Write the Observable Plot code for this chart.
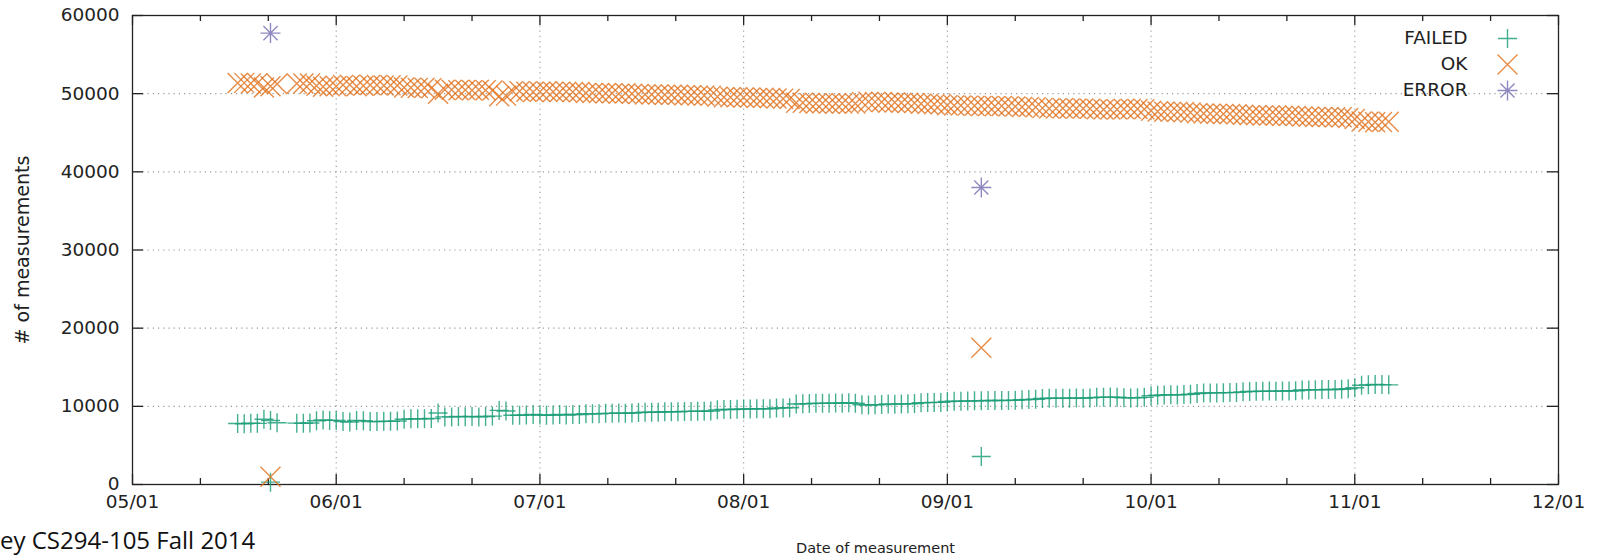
<!DOCTYPE html>
<html><head><meta charset="utf-8">
<script src="https://cdn.jsdelivr.net/npm/d3@7"></script>
<script src="https://cdn.jsdelivr.net/npm/@observablehq/plot@0.6"></script>
<style>
html,body{margin:0;padding:0;background:#fff;}
#wrap{position:relative;width:1599px;height:557px;overflow:hidden;background:#fff;}
#chart{position:absolute;left:0;top:0;}
#caption{position:absolute;left:0;top:528px;font-family:"Open Sans";font-size:24px;color:#111;white-space:nowrap;line-height:1;}
</style></head><body>
<div id="wrap"><div id="chart"></div><div id="caption">ey CS294-105 Fall 2014</div></div>
<script>
// ---------- data ----------
const dates = [
 "05-17","05-18","05-19","05-20","05-21","05-22","05-23","05-26","05-27","05-28","05-29","05-30","05-31",
 "06-01","06-02","06-03","06-04","06-05","06-06","06-07","06-08","06-09","06-10","06-11","06-12","06-13","06-14","06-15",
 "06-16","06-17","06-18","06-19","06-20","06-21","06-22","06-23","06-24","06-25","06-26","06-27","06-28","06-29","06-30",
 "07-01","07-02","07-03","07-04","07-05","07-06","07-07","07-08","07-09","07-10","07-11","07-12","07-13","07-14","07-15","07-16",
 "07-17","07-18","07-19","07-20","07-21","07-22","07-23","07-24","07-25","07-26","07-27","07-28","07-29","07-30","07-31",
 "08-01","08-02","08-03","08-04","08-05","08-06","08-07","08-08","08-09","08-10","08-11","08-12","08-13","08-14","08-15","08-16",
 "08-17","08-18","08-19","08-20","08-21","08-22","08-23","08-24","08-25","08-26","08-27","08-28","08-29","08-30","08-31",
 "09-01","09-02","09-03","09-04","09-05","09-06","09-07","09-08","09-09","09-10","09-11","09-12","09-13","09-14","09-15",
 "09-16","09-17","09-18","09-19","09-20","09-21","09-22","09-23","09-24","09-25","09-26","09-27","09-28","09-29","09-30",
 "10-01","10-02","10-03","10-04","10-05","10-06","10-07","10-08","10-09","10-10","10-11","10-12","10-13","10-14","10-15","10-16",
 "10-17","10-18","10-19","10-20","10-21","10-22","10-23","10-24","10-25","10-26","10-27","10-28","10-29","10-30","10-31",
 "11-01","11-02","11-03","11-04","11-05","11-06"
];
const failedValues = [
 7800,7770,7840,7820,8350,8190,7900,7850,7840,7860,8150,8250,8200,
 8200,8050,8000,8200,8150,8050,8050,8100,8080,8120,8350,8400,8420,8400,8450,
 9150,8650,8650,8700,8680,8700,8650,8700,8750,9480,9400,8850,8850,8900,8950,
 8900,8850,8900,8950,8900,8950,8950,9050,9050,9050,9100,9100,9150,9100,9150,9200,
 9250,9250,9250,9300,9300,9300,9350,9350,9380,9380,9400,9550,9600,9600,9620,
 9650,9650,9700,9680,9700,9780,9800,9820,10300,10320,10350,10400,10380,10400,10420,10400,
 10450,10400,10200,10180,10200,10220,10300,10280,10300,10320,10350,10450,10480,10500,10500,
 10620,10650,10650,10680,10700,10720,10740,10750,10740,10760,10780,10850,10870,10900,11000,
 11040,11050,11030,11050,11060,11040,11080,11150,11170,11180,11170,11100,11080,11100,11150,
 11350,11420,11460,11480,11460,11500,11550,11650,11700,11720,11720,11750,11760,11780,11850,11900,
 11920,11930,11950,11940,11960,11970,12000,12080,12100,12120,12140,12150,12160,12180,12250,
 12380,12700,12750,12800,12780,12750
];
const okValues = [
 51350,51380,51310,51330,50800,50960,51250,51300,51310,51290,51000,50900,50950,
 50950,51100,51150,50950,51000,51100,51100,51050,51070,51030,50800,50750,50730,50750,50700,
 50000,50500,50500,50450,50470,50450,50500,50450,50400,49670,49750,50300,50300,50250,50200,
 50250,50300,50250,50200,50250,50200,50200,50100,50100,50100,50050,50050,50000,50050,50000,49950,
 49900,49900,49900,49850,49850,49850,49800,49800,49770,49770,49750,49600,49550,49550,49530,
 49500,49500,49450,49470,49450,49370,49350,49330,48850,48830,48800,48750,48770,48750,48730,48750,
 48700,48750,48950,48970,48950,48930,48850,48870,48850,48830,48800,48700,48670,48650,48650,
 48530,48500,48500,48470,48450,48430,48410,48400,48410,48390,48370,48300,48280,48250,48150,
 48110,48100,48120,48100,48090,48110,48070,48000,47980,47970,47980,48050,48070,48050,48000,
 47800,47730,47690,47670,47690,47650,47600,47500,47450,47430,47430,47400,47390,47370,47300,47250,
 47230,47220,47200,47210,47190,47180,47150,47070,47050,47030,47010,47000,46990,46970,46900,
 46770,46450,46400,46350,46370,46400
];
// partial-day runs (outliers)
const outlierDates = ["05-22","09-06"];
const failedOutliers = [300, 3580];
const okOutliers = [1000, 17500];
const errorValues = [57750, 38000];

const seriesNames = ["FAILED","OK","ERROR"];
const xTickLabels = ["05/01","06/01","07/01","08/01","09/01","10/01","11/01","12/01"];
const xTickMonths = [5,6,7,8,9,10,11,12];
const yTicks = [0,10000,20000,30000,40000,50000,60000];

// ---------- helpers ----------
const daysIn = {5:31,6:30,7:31,8:31,9:30,10:31,11:30};
function pos(s){ const [m,d] = s.split("-").map(Number); return m + (d-1)/daysIn[m]; }

const rOf = size => Math.sqrt(size/Math.PI);
const plusSym = {draw(c, size){const r=rOf(size); c.moveTo(-r,0); c.lineTo(r,0); c.moveTo(0,-r); c.lineTo(0,r);}};
const timesSym = {draw(c, size){const r=rOf(size); c.moveTo(-r,-r); c.lineTo(r,r); c.moveTo(-r,r); c.lineTo(r,-r);}};
const starSym = {draw(c, size){const r=rOf(size), q=r*Math.SQRT1_2; c.moveTo(-r,0); c.lineTo(r,0); c.moveTo(0,-r); c.lineTo(0,r); c.moveTo(-q,-q); c.lineTo(q,q); c.moveTo(-q,q); c.lineTo(q,-q);}};

const colors = ["#1b9e77","#e0731f","#7570b3"];
const symbols = [plusSym, timesSym, starSym];
const sizes = [9.5, 10, 10];
const mk = {fill:"none", strokeWidth:1.4, strokeOpacity:0.82};

const failedData = dates.map((d,i)=>({x:pos(d), y:failedValues[i]})).concat(outlierDates.map((d,i)=>({x:pos(d), y:failedOutliers[i]})));
const okData = dates.map((d,i)=>({x:pos(d), y:okValues[i]})).concat(outlierDates.map((d,i)=>({x:pos(d), y:okOutliers[i]})));
const errData = outlierDates.map((d,i)=>({x:pos(d), y:errorValues[i]}));

const majors = xTickMonths.map((m,i)=>({x:m, label:xTickLabels[i]}));
const minors = xTickMonths.slice(0,-1).flatMap(m=>[m+1/3, m+2/3]);
const innerMajors = xTickMonths.slice(1,-1);
const innerY = yTicks.slice(1,-1);

const W=1599, H=557, ML=132, MR=41, MT=15, MB=73;
const PW=W-ML-MR, PH=H-MT-MB;
const grid = {stroke:"#9a9a9a", strokeWidth:1.1, strokeDasharray:"1.2,4"};
const tk = {stroke:"#222", strokeWidth:1.3};

const legendMarks = seriesNames.flatMap((name,i)=>[
  Plot.text([name], {frameAnchor:"top-right", lineAnchor:"middle", dx:-91, dy:23+26*i, textAnchor:"end", fontSize:18.5, fill:"#222"}),
  Plot.dot([0], {frameAnchor:"top-right", dx:-51, dy:23+26*i, symbol:symbols[i], r:sizes[i], stroke:colors[i], ...mk})
]);

const chart = Plot.plot({
  width:W, height:H, marginLeft:ML, marginRight:MR, marginTop:MT, marginBottom:MB,
  style:{fontFamily:"DejaVu Sans", fontSize:"18.5px", background:"transparent", overflow:"visible"},
  x:{type:"linear", domain:[5,12], axis:null},
  y:{domain:[0,60000], axis:null},
  marks:[
    Plot.ruleX(innerMajors, {x:d=>d, ...grid}),
    Plot.ruleY(innerY, {y:d=>d, ...grid}),
    // inward ticks bottom/top
    Plot.ruleX(xTickMonths, {x:d=>d, insetTop:PH-10, ...tk}),
    Plot.ruleX(xTickMonths, {x:d=>d, insetBottom:PH-10, ...tk}),
    Plot.ruleX(minors, {x:d=>d, insetTop:PH-6, ...tk}),
    Plot.ruleX(minors, {x:d=>d, insetBottom:PH-6, ...tk}),
    // inward ticks left/right
    Plot.ruleY(yTicks, {y:d=>d, insetRight:PW-11, ...tk}),
    Plot.ruleY(yTicks, {y:d=>d, insetLeft:PW-11, ...tk}),
    Plot.frame({stroke:"#222", strokeWidth:1.3}),
    // tick labels
    Plot.text(yTicks, {y:d=>d, frameAnchor:"left", dx:-13, textAnchor:"end", text:d=>String(d), fill:"#222"}),
    Plot.text(majors, {x:"x", frameAnchor:"bottom", lineAnchor:"middle", dy:18, text:"label", fill:"#222"}),
    // axis titles
    Plot.text(["# of measurements"], {frameAnchor:"left", textAnchor:"middle", lineAnchor:"middle", dx:-110, rotate:-90, fill:"#222", fontSize:19}),
    Plot.text(["Date of measurement"], {frameAnchor:"bottom", lineAnchor:"middle", dx:30, dy:64, fill:"#222", fontSize:14.5}),
    // data
    Plot.dot(failedData, {x:"x", y:"y", symbol:plusSym, r:9.5, stroke:colors[0], ...mk}),
    Plot.dot(okData, {x:"x", y:"y", symbol:timesSym, r:10, stroke:colors[1], ...mk}),
    Plot.dot(errData, {x:"x", y:"y", symbol:starSym, r:10, stroke:colors[2], ...mk}),
    ...legendMarks
  ]
});
document.getElementById("chart").appendChild(chart);
</script>
</body></html>
